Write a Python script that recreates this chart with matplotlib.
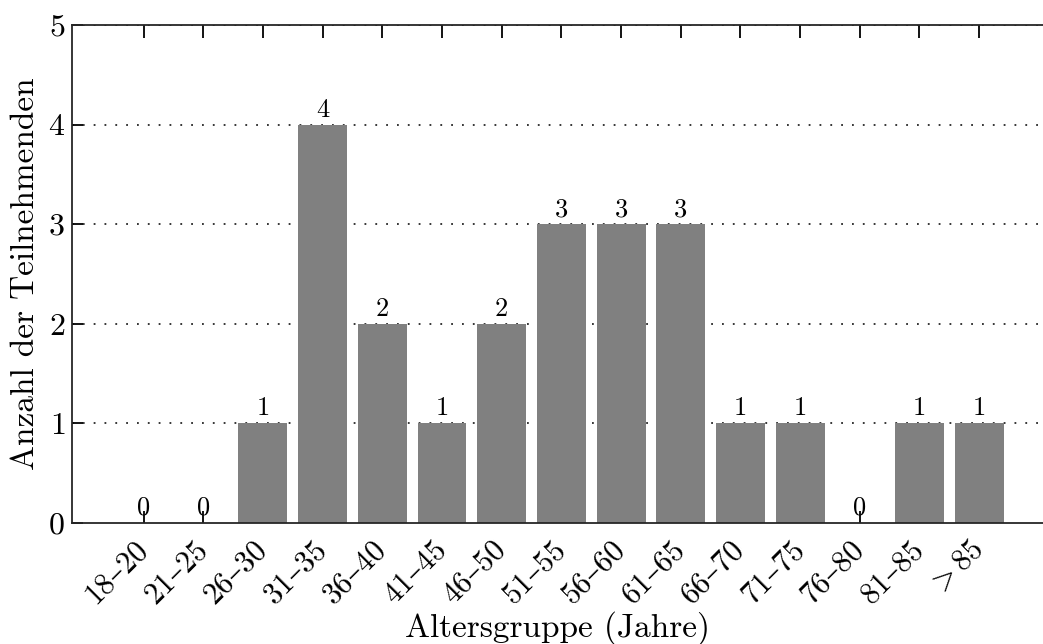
import matplotlib.pyplot as plt
import matplotlib.transforms as mtransforms
import numpy as np

plt.rcParams['font.family'] = ['cmr10', 'DejaVu Serif']
plt.rcParams['mathtext.fontset'] = 'cm'
plt.rcParams['axes.formatter.use_mathtext'] = True

# Altersgruppen und Anzahl
gruppen = ['18–20', '21–25', '26–30', '31–35', '36–40', '41–45', '46–50', '51–55',
           '56–60', '61–65', '66–70', '71–75', '76–80', '81–85', r'$>85$']
anzahl = [0, 0, 1, 4, 2, 1, 2, 3, 3, 3, 1, 1, 0, 1, 1]

fig = plt.figure(figsize=(10.43, 6.44), dpi=100)
ax = fig.add_axes([0.069, 0.188, 0.931, 0.773])

x = np.arange(len(gruppen))
ax.bar(x, anzahl, width=0.82, color='#808080', zorder=2)

for xi, v in zip(x, anzahl):
    ax.text(xi, v + 0.03, str(v), ha='center', va='bottom', fontsize=19, zorder=3)

ax.set_xlim(-1.2, 15.07)
ax.set_ylim(0, 5)
ax.set_yticks(range(6))
ax.set_xticks(x)
ax.set_xticklabels(gruppen, rotation=45, ha='right', va='center',
                   rotation_mode='anchor')
# labels sit a bit to the right of their tick, like the original
offset = mtransforms.ScaledTranslation(16 / 100, 0, fig.dpi_scale_trans)
for lab in ax.get_xticklabels():
    lab.set_transform(lab.get_transform() + offset)

for yv in range(1, 6):
    ax.axhline(yv, color='#262626', linestyle=(0, (1, 5)), linewidth=1.3, zorder=1)

ax.tick_params(axis='x', direction='in', length=9, width=1.3, top=True,
               labelsize=22, pad=16)
ax.tick_params(axis='y', direction='in', length=8, width=1.3, labelsize=23, pad=5)
for s in ['left', 'bottom', 'top']:
    ax.spines[s].set_linewidth(1.3)
    ax.spines[s].set_color('#262626')
ax.spines['right'].set_visible(False)

ax.set_xlabel('Altersgruppe (Jahre)', fontsize=24, va='baseline')
ax.xaxis.set_label_coords(0.5, -0.228)
ax.set_ylabel('Anzahl der Teilnehmenden', fontsize=24, labelpad=6)

fig.savefig('out.png', dpi=100)
